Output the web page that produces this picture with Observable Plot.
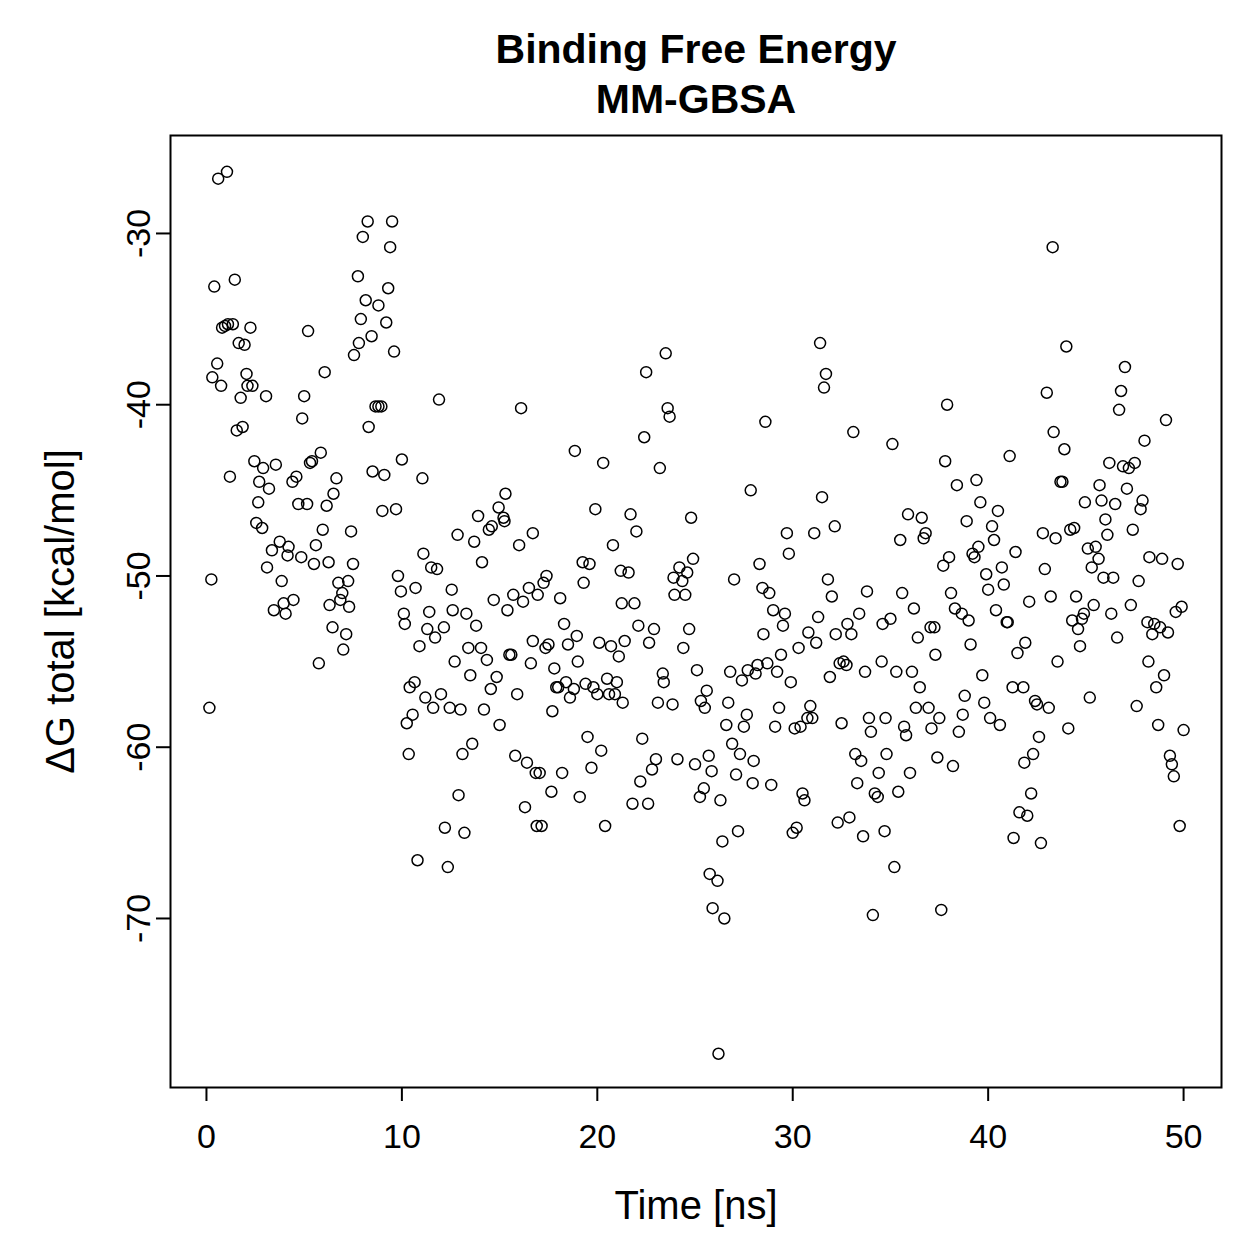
<!DOCTYPE html>
<html>
<head>
<meta charset="utf-8">
<script src="https://cdn.jsdelivr.net/npm/d3@7"></script>
<script src="https://cdn.jsdelivr.net/npm/@observablehq/plot@0.6"></script>
<style>
html,body{margin:0;padding:0;background:#fff;overflow:hidden;}
#chart svg{display:block;}
</style>
</head>
<body>
<div id="chart"></div>
<script>
const chartTitle = "Binding Free Energy";
const chartSubtitle = "MM-GBSA";
const xLabel = "Time [ns]";
const yLabel = "ΔG total [kcal/mol]";
const xTicks = [0, 10, 20, 30, 40, 50];
const yTicks = [-30, -40, -50, -60, -70];

const timeNs = [
0.15,0.25,0.3,0.4,0.55,0.6,0.75,0.8,0.95,1.05,1.1,1.2,1.35,1.45,1.55,1.65,1.75,1.85,1.95,2.05,2.1,2.25,2.35,2.45,2.55,2.65,2.7,2.85,2.9,3.05,3.1,3.2,3.35,3.45,3.55,3.75,3.85,3.95,4.05,4.15,4.2,4.4,4.45,4.6,4.7,4.85,4.9,5.0,
5.15,5.2,5.3,5.4,5.5,5.6,5.75,5.85,5.95,6.05,6.15,6.25,6.3,6.45,6.5,6.65,6.75,6.85,6.95,7.0,7.15,7.25,7.3,7.4,7.5,7.55,7.75,7.8,7.9,8.0,8.15,8.25,8.3,8.45,8.5,8.65,8.8,8.8,8.95,9.0,9.1,9.2,9.3,9.4,9.5,9.6,9.7,9.8,9.95,10.0,
10.1,10.15,10.25,10.35,10.4,10.55,10.65,10.7,10.8,10.9,11.05,11.1,11.2,11.3,11.4,11.5,11.6,11.7,11.8,11.9,12.0,12.15,12.2,12.35,12.45,12.55,12.6,12.7,12.85,12.9,13.0,13.1,13.2,13.3,13.4,13.5,13.6,13.7,13.8,13.9,14.05,14.1,14.2,14.35,14.45,14.55,14.6,14.7,14.85,14.95,15.0,15.2,15.25,15.3,15.4,15.5,15.6,15.7,15.8,15.9,16.0,16.1,16.2,16.3,16.4,16.5,16.6,16.7,16.7,16.85,16.9,
16.95,17.05,17.15,17.25,17.35,17.4,17.5,17.65,17.7,17.8,17.9,18.0,18.1,18.2,18.3,18.4,18.5,18.6,18.8,18.85,18.95,19.0,19.1,19.25,19.3,19.4,19.5,19.6,19.7,19.8,19.9,20.0,20.1,20.2,20.3,20.4,20.5,20.6,20.7,20.8,20.9,21.0,21.1,21.2,21.25,21.3,21.4,21.6,21.7,21.8,21.9,22.0,22.1,22.2,22.3,22.4,22.5,22.6,22.65,22.8,22.9,23.0,23.1,23.2,23.35,23.4,23.5,23.6,23.7,23.85,23.9,23.95,24.1,24.2,24.35,24.4,24.5,24.6,24.7,24.8,24.9,25.0,25.1,
25.25,25.3,25.45,25.5,25.6,25.7,25.75,25.85,25.9,26.15,26.2,26.3,26.4,26.5,26.6,26.7,26.8,26.9,27.0,27.1,27.2,27.3,27.4,27.5,27.65,27.7,27.85,27.95,28.0,28.1,28.2,28.3,28.45,28.5,28.6,28.7,28.8,28.9,29.0,29.1,29.2,29.3,29.4,29.5,29.6,29.7,29.8,29.9,30.0,30.1,30.2,30.3,30.4,30.5,30.6,30.75,30.8,30.9,31.0,31.1,31.2,31.3,31.4,31.5,31.6,31.7,31.8,31.9,32.0,32.15,32.2,32.3,32.4,32.5,32.6,32.75,32.8,32.9,33.0,33.1,33.2,33.3,33.4,33.5,33.6,33.7,33.8,33.9,34.0,34.1,34.2,34.35,34.4,34.55,34.6,34.7,34.75,34.8,
35.0,35.1,35.2,35.3,35.4,35.5,35.6,35.7,35.8,35.9,36.0,36.1,36.2,36.3,36.4,36.5,36.6,36.7,36.8,36.95,37.05,37.1,37.25,37.3,37.4,37.5,37.6,37.7,37.8,37.9,38.0,38.1,38.2,38.3,38.4,38.5,38.65,38.7,38.8,38.9,39.0,39.1,39.2,39.3,39.4,39.5,39.6,39.7,39.8,39.9,40.0,40.1,40.2,40.3,40.4,40.5,40.6,40.7,40.8,40.95,41.0,41.1,41.25,41.3,41.4,41.5,41.6,41.8,41.85,41.9,42.0,42.1,42.2,42.3,42.4,42.5,42.6,42.7,42.8,42.9,43.0,43.1,43.2,43.3,43.35,43.45,43.55,43.7,43.8,43.9,44.0,
44.1,44.2,44.3,44.4,44.5,44.6,44.7,44.8,44.9,44.95,45.1,45.2,45.3,45.4,45.5,45.65,45.7,45.8,45.9,46.0,46.1,46.2,46.3,46.4,46.5,46.6,46.7,46.8,46.9,47.0,47.1,47.2,47.3,47.4,47.5,47.6,47.7,47.8,47.9,48.0,48.15,48.2,48.25,48.4,48.5,48.6,48.7,48.8,48.9,49.0,49.1,49.2,49.3,49.4,49.5,49.6,49.7,49.8,49.9,50.0
];

const dGTotal = [
-57.7,-50.2,-38.4,-33.1,-37.6,-26.8,-38.9,-35.5,-35.4,-26.4,-35.3,-44.2,-35.3,-32.7,-41.5,-36.4,-39.6,-41.3,-36.5,-38.2,-38.9,-35.5,-38.9,-43.3,-46.9,-45.7,-44.5,-47.2,-43.7,-39.5,-49.5,-44.9,-48.5,-52.0,-43.5,-48.0,-50.3,-51.6,-52.2,-48.8,-48.3,-44.5,-51.4,-44.2,-45.8,-48.9,-40.8,-39.5,
-45.8,-35.7,-43.4,-43.3,-49.3,-48.2,-55.1,-42.8,-47.3,-38.1,-45.9,-49.2,-51.7,-53.0,-45.2,-44.3,-50.4,-51.4,-51.0,-54.3,-53.4,-50.3,-51.8,-47.4,-49.3,-37.1,-32.5,-36.4,-35.0,-30.2,-33.9,-29.3,-41.3,-36.0,-43.9,-40.1,-40.1,-34.2,-40.1,-46.2,-44.1,-35.2,-33.2,-30.8,-29.3,-36.9,-46.1,-50.0,-50.9,-43.2,
-52.2,-52.8,-58.6,-60.4,-56.5,-58.1,-56.2,-50.7,-66.6,-54.1,-44.3,-48.7,-57.1,-53.1,-52.1,-49.5,-57.7,-53.6,-49.6,-39.7,-56.9,-53.0,-64.7,-67.0,-57.7,-50.8,-52.0,-55.0,-47.6,-62.8,-57.8,-60.4,-65.0,-52.2,-54.2,-55.8,-59.8,-48.0,-52.9,-46.5,-54.2,-49.2,-57.8,-54.9,-47.3,-56.6,-47.1,-51.4,-55.9,-46.0,-58.7,-46.6,-46.8,-45.2,-52.0,-54.6,-54.6,-51.1,-60.5,-56.9,-48.2,-40.2,-51.5,-63.5,-60.9,-50.7,-55.1,-53.8,-47.5,-61.5,-64.6,
-51.1,-61.5,-64.6,-50.4,-54.2,-50.0,-54.0,-62.6,-57.9,-55.4,-56.5,-56.5,-51.3,-61.5,-52.8,-56.2,-54.0,-57.1,-56.6,-42.7,-53.5,-55.0,-62.9,-49.2,-50.4,-56.3,-59.4,-49.3,-61.2,-56.5,-46.1,-56.9,-53.9,-60.2,-43.4,-64.6,-56.0,-56.9,-54.1,-48.2,-56.9,-56.2,-54.7,-49.7,-51.6,-57.4,-53.8,-49.8,-46.4,-63.3,-51.6,-47.4,-52.9,-62.0,-59.5,-41.9,-38.1,-63.3,-53.9,-61.3,-53.1,-60.7,-57.4,-43.7,-55.7,-56.2,-37.0,-40.2,-40.7,-57.5,-50.1,-51.1,-60.7,-49.5,-50.3,-54.2,-51.1,-49.8,-53.1,-46.6,-49.0,-61.0,-55.5,
-62.9,-57.3,-62.4,-57.7,-56.7,-60.5,-67.4,-61.4,-69.4,-67.8,-77.9,-63.1,-65.5,-70.0,-58.7,-57.4,-55.6,-59.8,-50.2,-61.6,-64.9,-60.4,-56.1,-58.8,-58.1,-55.5,-45.0,-62.1,-60.8,-55.7,-55.2,-49.3,-50.7,-53.4,-41.0,-55.1,-51.0,-62.2,-52.0,-58.8,-55.6,-57.7,-54.6,-52.9,-52.2,-47.5,-48.7,-56.2,-65.0,-58.9,-64.7,-54.2,-58.8,-62.7,-63.1,-58.3,-53.3,-57.6,-58.3,-47.5,-53.9,-52.4,-36.4,-45.4,-39.0,-38.2,-50.2,-55.9,-51.2,-47.1,-53.4,-64.4,-55.1,-58.6,-55.0,-55.2,-52.8,-64.1,-53.4,-41.6,-60.4,-62.1,-52.2,-60.8,-65.2,-55.6,-50.9,-58.3,-59.1,-69.8,-62.7,-62.9,-61.5,-55.0,-52.8,-64.9,-58.3,-60.4,
-52.5,-42.3,-67.0,-55.6,-62.6,-47.9,-51.0,-58.8,-59.3,-46.4,-61.5,-55.6,-51.9,-57.7,-53.6,-56.5,-46.6,-47.8,-47.5,-57.7,-53.0,-58.9,-53.0,-54.6,-60.6,-58.3,-69.5,-49.4,-43.3,-40.0,-48.9,-51.0,-61.1,-51.9,-44.7,-59.1,-52.2,-58.1,-57.0,-46.8,-52.6,-54.0,-48.7,-48.9,-44.4,-48.3,-45.7,-55.8,-57.4,-49.9,-50.8,-58.3,-47.1,-47.9,-52.0,-46.2,-58.7,-49.5,-50.5,-52.7,-52.7,-43.0,-56.5,-65.3,-48.6,-54.5,-63.8,-56.5,-60.9,-53.9,-64.0,-51.5,-62.7,-60.4,-57.3,-57.5,-59.4,-65.6,-47.5,-49.6,-39.3,-57.7,-51.2,-30.8,-41.6,-47.8,-55.0,-44.5,-44.5,-42.6,-36.6,
-58.9,-47.3,-52.6,-47.2,-51.2,-53.1,-54.1,-52.5,-52.2,-45.7,-48.4,-57.1,-49.5,-51.7,-48.3,-49.0,-44.7,-45.6,-50.1,-46.7,-47.6,-43.4,-52.2,-50.1,-45.8,-53.6,-40.3,-39.2,-43.6,-37.8,-44.9,-43.7,-51.7,-47.3,-43.4,-57.6,-50.3,-46.1,-45.6,-42.1,-52.7,-55.0,-48.9,-53.4,-52.8,-56.5,-58.7,-53.0,-49.0,-55.8,-40.9,-53.3,-60.5,-61.0,-61.7,-52.1,-49.3,-64.6,-51.8,-59.0
];

const points = timeNs.map((t, i) => ({t, g: dGTotal[i]}));
const font = "'Liberation Sans', Arial, Helvetica, sans-serif";

const chart = Plot.plot({
  width: 1259,
  height: 1259,
  marginLeft: 170,
  marginRight: 38,
  marginTop: 135,
  marginBottom: 172,
  x: {domain: [-1.84, 51.94]},
  y: {domain: [-79.87, -24.28]},
  style: {fontFamily: font, background: "white", color: "black"},
  marks: [
    Plot.axisX({ticks: xTicks, tickSize: 14, tickFormat: () => "", label: null, strokeWidth: 2}),
    Plot.axisY({ticks: yTicks, tickSize: 14, tickFormat: () => "", label: null, strokeWidth: 2}),
    Plot.text(xTicks, {x: d => d, frameAnchor: "bottom", dy: 60, lineAnchor: "bottom", fontSize: 34, fill: "black", text: d => String(d)}),
    Plot.text(yTicks, {y: d => d, frameAnchor: "left", dx: -21, rotate: -90, lineAnchor: "bottom", textAnchor: "middle", fontSize: 34, fill: "black", text: d => String(d)}),
    Plot.text([xLabel], {frameAnchor: "bottom", dy: 131, lineAnchor: "bottom", fontSize: 40, fill: "black"}),
    Plot.text([yLabel], {frameAnchor: "left", dx: -97, rotate: -90, lineAnchor: "bottom", textAnchor: "middle", fontSize: 40, fill: "black"}),
    Plot.text([chartTitle], {frameAnchor: "top", dy: -73, lineAnchor: "bottom", fontSize: 41, fontWeight: "bold", fill: "black"}),
    Plot.text([chartSubtitle], {frameAnchor: "top", dy: -23, lineAnchor: "bottom", fontSize: 41, fontWeight: "bold", fill: "black"}),
    Plot.dot(points, {x: "t", y: "g", r: 5.5, stroke: "black", strokeWidth: 1.5, fill: "none"}),
    Plot.frame({stroke: "black", strokeWidth: 2})
  ]
});
document.getElementById("chart").appendChild(chart);
</script>
</body>
</html>
